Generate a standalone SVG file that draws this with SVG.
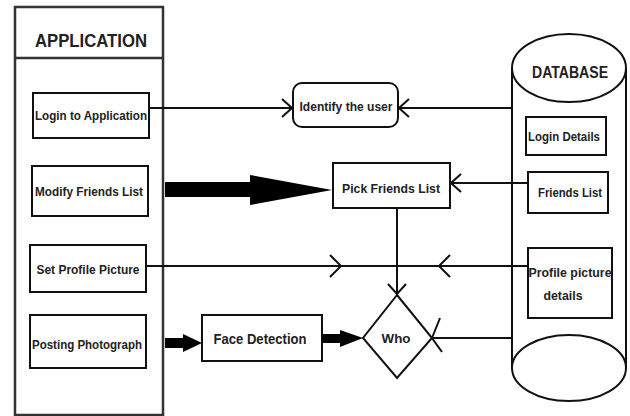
<svg xmlns="http://www.w3.org/2000/svg" width="630" height="416" viewBox="0 0 630 416">
<defs>
<style>
.box{fill:#fff;stroke:#111;stroke-width:2}
.ln{fill:none;stroke:#111;stroke-width:2}
.t{font-family:"Liberation Sans",Arial,sans-serif;font-weight:bold;fill:#222;text-anchor:middle;dominant-baseline:central}
.thick{fill:#000;stroke:none}
</style>
<marker id="open" viewBox="0 0 12 20" refX="11" refY="10" markerWidth="12" markerHeight="20" markerUnits="userSpaceOnUse" orient="auto">
<path d="M1,1 L11,10 L1,19" fill="none" stroke="#111" stroke-width="2"/>
</marker>
</defs>
<rect width="630" height="416" fill="#fff"/>

<g id="application">
<rect x="15" y="7" width="148" height="408" fill="#fff" stroke="#333" stroke-width="2.5"/>
<line x1="15" y1="58" x2="163" y2="58" stroke="#333" stroke-width="2.5"/>
<text class="t" x="91" y="40" font-size="19" textLength="112" lengthAdjust="spacingAndGlyphs">APPLICATION</text>
</g>

<g id="login-app">
<rect class="box" x="33" y="93" width="116" height="45"/>
<text class="t" x="91" y="116" font-size="12.5" textLength="112" lengthAdjust="spacingAndGlyphs">Login to Application</text>
</g>
<g id="modify-friends">
<rect class="box" x="32" y="166" width="116" height="50"/>
<text class="t" x="89" y="192" font-size="12.5" textLength="108" lengthAdjust="spacingAndGlyphs">Modify Friends List</text>
</g>
<g id="set-profile">
<rect class="box" x="30" y="245" width="116" height="47"/>
<text class="t" x="88" y="270" font-size="12.5" textLength="103" lengthAdjust="spacingAndGlyphs">Set Profile Picture</text>
</g>
<g id="posting">
<rect class="box" x="30" y="315" width="116" height="53"/>
<text class="t" x="87" y="345" font-size="12.5" textLength="110" lengthAdjust="spacingAndGlyphs">Posting Photograph</text>
</g>

<g id="identify">
<rect class="box" x="293" y="83" width="105" height="44" rx="9"/>
<text class="t" x="346" y="107" font-size="12.5" textLength="93" lengthAdjust="spacingAndGlyphs">Identify the user</text>
</g>
<g id="pick-friends">
<rect class="box" x="333" y="163" width="117" height="45"/>
<text class="t" x="391" y="188" font-size="13.5" textLength="98" lengthAdjust="spacingAndGlyphs">Pick Friends List</text>
</g>
<g id="face-detection">
<rect class="box" x="202" y="315" width="120" height="46"/>
<text class="t" x="260" y="339" font-size="14" textLength="93" lengthAdjust="spacingAndGlyphs">Face Detection</text>
</g>
<g id="who">
<polygon class="box" points="397,295 432,338 397,378 363,338"/>
<text class="t" x="396" y="338" font-size="13" textLength="29" lengthAdjust="spacingAndGlyphs">Who</text>
</g>

<g id="database">
<path class="ln" d="M512,68 L512,368 M626,68 L626,368"/>
<ellipse class="box" cx="569" cy="68" rx="57" ry="34"/>
<ellipse class="box" cx="569" cy="368" rx="57" ry="33"/>
<text class="t" x="570" y="72" font-size="16" textLength="76" lengthAdjust="spacingAndGlyphs">DATABASE</text>
</g>
<g id="login-details">
<rect class="box" x="526" y="117" width="80" height="38"/>
<text class="t" x="564" y="137" font-size="12.5" textLength="72" lengthAdjust="spacingAndGlyphs">Login Details</text>
</g>
<g id="friends-list">
<rect class="box" x="528" y="172" width="80" height="41"/>
<text class="t" x="570" y="193" font-size="12.5" textLength="64" lengthAdjust="spacingAndGlyphs">Friends List</text>
</g>
<g id="profile-details">
<rect class="box" x="528" y="248" width="84" height="70"/>
<text class="t" x="570" y="273" font-size="12.5" textLength="83" lengthAdjust="spacingAndGlyphs">Profile picture</text>
<text class="t" x="563" y="296" font-size="12.5" textLength="39" lengthAdjust="spacingAndGlyphs">details</text>
</g>

<g id="connectors">
<line class="ln" x1="149" y1="108" x2="292" y2="108" marker-end="url(#open)"/>
<line class="ln" x1="512" y1="108" x2="399" y2="108" marker-end="url(#open)"/>
<line class="ln" x1="528" y1="183" x2="451" y2="183" marker-end="url(#open)"/>
<line class="ln" x1="397" y1="208" x2="397" y2="294" marker-end="url(#open)"/>
<line class="ln" x1="146" y1="266" x2="528" y2="266"/>
<path class="ln" d="M330,255 L341,266 L330,277"/>
<path class="ln" d="M450,255 L439,266 L450,277"/>
<line class="ln" x1="512" y1="338" x2="433" y2="338"/>
<path class="ln" d="M440,318 L432,338 L442,352"/>
<polygon class="thick" points="165,182 250,182 250,175 332,190 250,205 250,197 165,197"/>
<polygon class="thick" points="165,338 183,338 183,334 202,343 183,352 183,348 165,348"/>
<polygon class="thick" points="322,334 340,334 340,330 363,338 340,347 340,343 322,343"/>
</g>
</svg>
